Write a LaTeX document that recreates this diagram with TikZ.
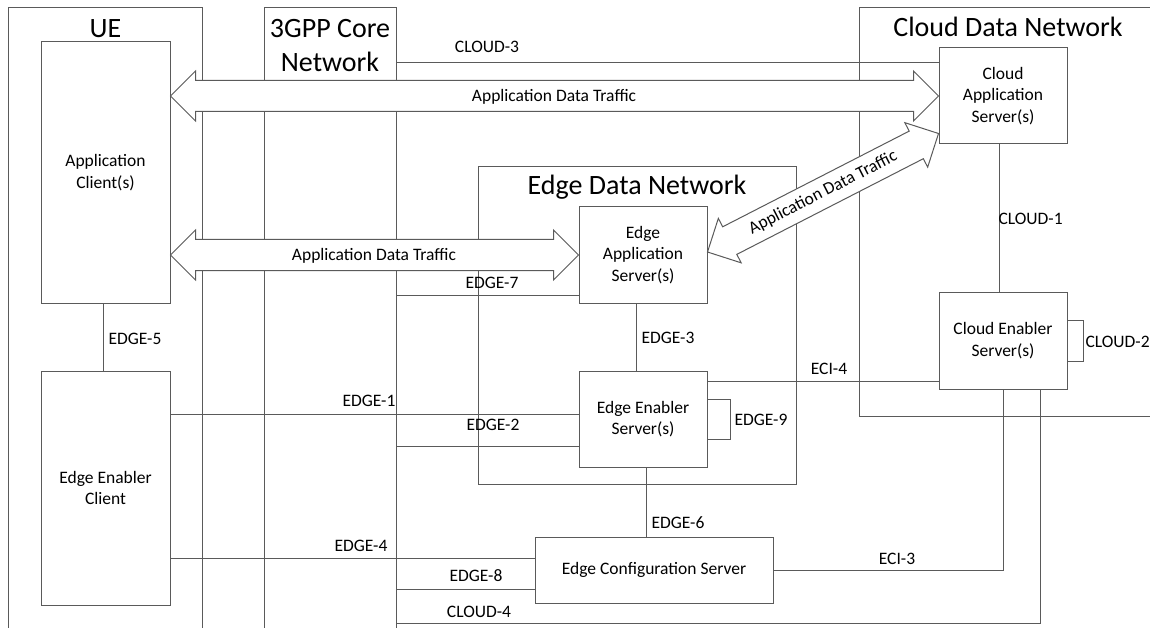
\documentclass[tikz,border=0pt]{standalone}
\usepackage{fontspec}
\setmainfont{Carlito}
\usetikzlibrary{calc}
\definecolor{ln}{RGB}{90,90,90}
\newcommand\lblfont{\fontsize{17.5}{21.5}\selectfont}
\newcommand\ttlfont{\fontsize{28}{34}\selectfont}
\newcommand\dblarrow[2]{%
  \filldraw[fat] (#1)
  -- ($($(#1)!25pt!(#2)$)!25pt!90:(#2)$)
  -- ($($(#1)!25pt!(#2)$)!15.5pt!90:(#2)$)
  -- ($($(#2)!25pt!(#1)$)!15.5pt!-90:(#1)$)
  -- ($($(#2)!25pt!(#1)$)!25pt!-90:(#1)$)
  -- (#2)
  -- ($($(#2)!25pt!(#1)$)!25pt!90:(#1)$)
  -- ($($(#2)!25pt!(#1)$)!15.5pt!90:(#1)$)
  -- ($($(#1)!25pt!(#2)$)!15.5pt!-90:(#2)$)
  -- ($($(#1)!25pt!(#2)$)!25pt!-90:(#2)$)
  -- cycle;}
\begin{document}
\begin{tikzpicture}[x=1pt,y=-1pt,line width=1pt,
  frame/.style={draw=ln},
  conn/.style={draw=ln},
  box/.style={draw=ln,fill=white,inner sep=0pt,align=center,font=\lblfont},
  lbl/.style={inner sep=0pt,font=\lblfont,text=black},
  ttl/.style={inner sep=0pt,font=\ttlfont,text=black},
  fat/.style={draw=ln,fill=white,line join=miter}]
\useasboundingbox (0,0) rectangle (1150,628);
\fill[white] (0,0) rectangle (1150,628);

% frames
\draw[frame] (8,628) -- (8,8) -- (202,8) -- (202,628);
\draw[frame] (264,628) -- (264,8) -- (396,8) -- (396,628);
\draw[frame] (478,167) rectangle (796,484);
\draw[frame] (1150,8) -- (859,8) -- (859,416) -- (1150,416);

% boxes
\node[box,minimum width=129pt,minimum height=261pt] (ac) at (105.5,172.5) {Application\\Client(s)};
\node[box,minimum width=129pt,minimum height=234pt] (eec) at (105.5,488) {Edge Enabler\\Client};
\node[box,minimum width=128pt,minimum height=96pt] (eas) at (643,255) {Edge\\Application\\Server(s)};
\node[box,minimum width=128pt,minimum height=96pt] (ees) at (643,419) {Edge Enabler\\Server(s)};
\node[box,minimum width=238pt,minimum height=66pt] (ecs) at (654,570) {Edge Configuration Server};
\node[box,minimum width=128pt,minimum height=96pt] (cas) at (1003,96) {Cloud\\Application\\Server(s)};
\node[box,minimum width=128pt,minimum height=97pt] (ces) at (1003,340.5) {Cloud Enabler\\Server(s)};

% connectors
\coordinate (c3) at (396,63);
\draw[conn] (c3) -- (c3 -| cas.west);
\coordinate (e7) at (396,295);
\draw[conn] (e7) -- (e7 -| eas.west);
\coordinate (e3) at ($(eas.south)+(-7,0)$);
\draw[conn] (e3) -- (e3 |- ees.north);
\coordinate (e1) at (170,414);
\draw[conn] (e1) -- (e1 -| ees.west);
\coordinate (e2) at (396,446);
\draw[conn] (e2) -- (e2 -| ees.west);
\coordinate (e4) at (170,558);
\draw[conn] (e4) -- (e4 -| ecs.west);
\coordinate (e8) at (396,589);
\draw[conn] (e8) -- (e8 -| ecs.west);
\coordinate (c4) at (396,623);
\coordinate (c4c) at (1040,623);
\draw[conn] (c4) -- (c4c) -- (c4c |- ces.south);
\draw[conn] (ecs.east) -| (ces.south);
\coordinate (eci4) at (707,381);
\draw[conn] (eci4) -- (eci4 -| ces.west);
\coordinate (e6) at ($(ees.south)+(3,0)$);
\draw[conn] (e6) -- (e6 |- ecs.north);
\coordinate (e5) at ($(ac.south)+(-2.5,0)$);
\draw[conn] (e5) -- (e5 |- eec.north);
\coordinate (cl1) at ($(cas.south)+(-4,0)$);
\draw[conn] (cl1) -- (cl1 |- ces.north);
\draw[conn] ($(ees.east)+(0,-20)$) -| ($(ees.east)+(23,20)$) -- ($(ees.east)+(0,20)$);
\draw[conn] ($(ces.east)+(0,-20.5)$) -| ($(ces.east)+(16,20.5)$) -- ($(ces.east)+(0,20.5)$);

% fat arrows
\coordinate (bigL) at (ac.east |- cas.west);
\dblarrow{bigL}{cas.west}
\coordinate (lowL) at (ac.east |- eas.west);
\dblarrow{lowL}{eas.west}
\coordinate (dA) at ($(eas.east)+(0,-3)$);
\coordinate (dB) at ($(cas.south west)+(0,-11)$);
\dblarrow{dA}{dB}

% titles
\node[ttl,anchor=base] (tue) at (105.5,37.3) {UE};
\node[ttl,anchor=base] (t3a) at (330,37.3) {3GPP Core};
\node[ttl,anchor=base] (t3b) at (330,71.7) {Network};
\node[ttl,anchor=base] (tcl) at (1008,36.7) {Cloud Data Network};
\node[ttl,anchor=base] (ted) at (637,195) {Edge Data Network};

% labels
\node[lbl,anchor=base] (lc3) at (487,52.3) {CLOUD-3};
\node[lbl,anchor=base] (la1) at (554,101.7) {Application Data Traffic};
\node[lbl,anchor=base] (la2) at (374,260.7) {Application Data Traffic};
\path (dA) -- (dB) node[lbl,midway,sloped] (la3) {Application Data Traffic};
\node[lbl,anchor=base] (le7) at (492,288.3) {EDGE-7};
\node[lbl,anchor=base west] (lc1) at (998,225) {CLOUD-1};
\node[lbl,anchor=base west] (le5) at (108,344.3) {EDGE-5};
\node[lbl,anchor=base] (le1) at (369,406) {EDGE-1};
\node[lbl,anchor=base] (le4) at (361,551) {EDGE-4};
\node[lbl,anchor=base west] (le3) at (641,343.3) {EDGE-3};
\node[lbl,anchor=base] (le2) at (493,430) {EDGE-2};
\node[lbl,anchor=base west] (le9) at (734,425.3) {EDGE-9};
\node[lbl,anchor=base west] (le6) at (651,528.3) {EDGE-6};
\node[lbl,anchor=base] (le8) at (476,581.7) {EDGE-8};
\node[lbl,anchor=base] (lc4) at (479,617.3) {CLOUD-4};
\node[lbl,anchor=base] (li4) at (829,374.3) {ECI-4};
\node[lbl,anchor=base west] (lc2) at (1085,347.3) {CLOUD-2};
\node[lbl,anchor=base] (li3) at (897,564) {ECI-3};
\end{tikzpicture}
\end{document}
